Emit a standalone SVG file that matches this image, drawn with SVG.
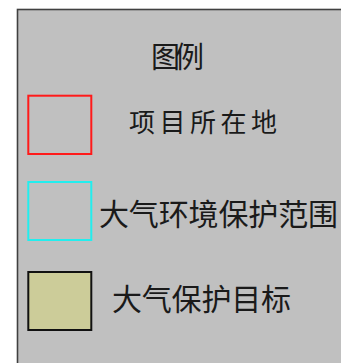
<svg xmlns="http://www.w3.org/2000/svg" width="341" height="363" viewBox="0 0 341 363">
<style>
.lbl{font-family:"Noto Sans CJK SC","Noto Sans CJK JP",sans-serif;fill:#1a1a1a;font-weight:normal}
.sw{stroke-width:2}
</style>
<rect width="341" height="363" fill="#ffffff"/>
<g id="panel">
<rect x="17.5" y="9.5" width="340" height="370" fill="#c0c0c0" stroke="#404040" stroke-width="1.6"/>
</g>
<g id="title">
<text class="lbl" x="151" y="68" font-size="29" textLength="53" lengthAdjust="spacing">图例</text>
</g>
<g id="item-project">
<rect class="sw" x="28.3" y="95.7" width="63" height="58.3" fill="none" stroke="#ff1a1a"/>
<text class="lbl" x="129" y="132" font-size="26" textLength="148" lengthAdjust="spacing">项目所在地</text>
</g>
<g id="item-air-range">
<rect class="sw" x="28.3" y="182" width="63" height="58" fill="none" stroke="#22eeee"/>
<text class="lbl" x="99" y="225" font-size="30" textLength="239" lengthAdjust="spacing">大气环境保护范围</text>
</g>
<g id="item-air-target">
<rect class="sw" x="28.3" y="272" width="63" height="58" fill="#cccc99" stroke="#111111"/>
<text class="lbl" x="112" y="310" font-size="30" textLength="179" lengthAdjust="spacing">大气保护目标</text>
</g>
<g id="connectors"/>
</svg>
